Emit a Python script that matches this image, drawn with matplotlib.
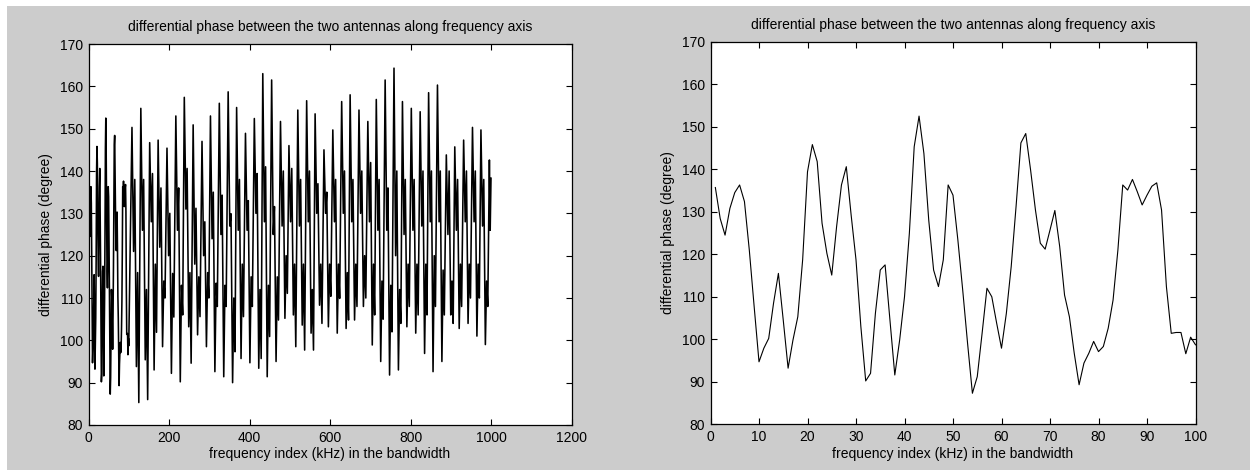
"""Two MATLAB-style panels: differential phase between two antennas vs frequency index."""

import matplotlib

matplotlib.use("Agg")
import matplotlib.pyplot as plt
from matplotlib.patches import Rectangle

# --- data ------------------------------------------------------------------
# first 100 samples (right panel, also the start of the left panel)
narrow_index = list(range(1, 101))
narrow_phase = [
    135.7, 128.4, 124.5, 130.8, 134.5, 136.3, 132.4, 121.0, 107.7, 94.7,
    97.9, 100.2, 108.5, 115.5, 104.5, 93.2, 99.8, 105.3, 118.7, 139.4,
    145.8, 141.8, 127.3, 120.2, 115.1, 126.5, 136.3, 140.6, 129.2, 118.7,
    103.0, 90.2, 92.0, 106.1, 116.3, 117.5, 104.5, 91.6, 99.8, 110.0,
    124.9, 145.3, 152.5, 143.7, 128.0, 116.3, 112.4, 118.7, 136.3, 133.9,
    123.4, 111.6, 99.1, 87.3, 91.2, 101.4, 112.0, 110.0, 103.8, 97.9,
    106.1, 117.1, 131.2, 146.2, 148.4, 139.8, 130.4, 122.6, 121.2, 125.7,
    130.3, 121.8, 110.4, 105.3, 96.7, 89.3, 94.4, 96.7, 99.5, 97.1,
    98.3, 102.6, 109.2, 121.0, 136.3, 135.1, 137.6, 134.7, 131.6, 133.9,
    136.0, 136.8, 130.4, 112.4, 101.4, 101.6, 101.6, 96.6, 100.5, 98.7,
]

# turning points of the left panel beyond index 100 (estimated by eye)
wide_index = [
    108, 112, 115, 119, 122, 125, 130, 134, 137, 141, 144, 147,
    152, 156, 159, 163, 166, 169, 173, 177, 180, 184, 187, 190,
    195, 199, 202, 206, 209, 212, 217, 221, 224, 228, 231, 234,
    238, 242, 245, 249, 252, 255, 260, 264, 267, 271, 274, 277,
    282, 286, 289, 293, 296, 299, 303, 307, 310, 314, 317, 320,
    325, 329, 332, 336, 339, 342, 347, 351, 354, 358, 361, 364,
    368, 372, 375, 379, 382, 385, 390, 394, 397, 401, 404, 407,
    412, 416, 419, 423, 426, 429, 433, 437, 440, 444, 447, 450,
    455, 459, 462, 466, 469, 472, 477, 481, 484, 488, 491, 494,
    498, 502, 505, 509, 512, 515, 520, 524, 527, 531, 534, 537,
    542, 546, 549, 553, 556, 559, 563, 567, 570, 574, 577, 580,
    585, 589, 592, 596, 599, 602, 607, 611, 614, 618, 621, 624,
    629, 633, 636, 640, 643, 646, 650, 654, 657, 661, 664, 667,
    672, 676, 679, 683, 686, 689, 694, 698, 701, 705, 708, 711,
    715, 719, 722, 726, 729, 732, 737, 741, 744, 748, 751, 754,
    759, 763, 766, 770, 773, 776, 780, 784, 787, 791, 794, 797,
    802, 806, 809, 813, 816, 819, 824, 828, 831, 835, 838, 841,
    845, 849, 852, 856, 859, 862, 867, 871, 874, 878, 881, 884,
    889, 893, 896, 900, 903, 906, 910, 914, 917, 921, 924, 927,
    932, 936, 939, 943, 946, 949, 954, 958, 961, 965, 968, 971,
    975, 979, 982, 986, 989, 992, 996, 998, 1000,
]
wide_phase = [
    150.3, 121.0, 138.0, 93.8, 116.0, 85.3, 154.8, 126.0, 138.0, 95.4, 112.0, 86.0,
    146.7, 128.0, 139.4, 93.0, 118.0, 101.9, 147.3, 122.0, 136.0, 98.5, 114.0, 110.0,
    145.4, 120.0, 130.0, 92.2, 115.8, 105.5, 153.0, 126.0, 136.0, 90.2, 113.0, 106.0,
    157.4, 131.0, 140.6, 103.2, 116.0, 94.6, 150.9, 118.0, 131.2, 101.3, 115.0, 105.6,
    147.0, 120.0, 128.0, 98.5, 116.0, 110.0, 153.0, 124.0, 135.0, 92.6, 113.5, 108.0,
    156.0, 125.0, 134.3, 91.4, 113.0, 108.0, 158.7, 127.0, 129.9, 90.0, 110.0, 97.3,
    155.0, 126.0, 138.0, 95.7, 118.0, 105.6, 148.9, 126.0, 133.0, 94.7, 115.0, 108.0,
    152.4, 130.0, 139.4, 93.4, 112.0, 95.7, 163.0, 128.0, 141.0, 91.4, 113.0, 100.9,
    161.5, 125.0, 131.6, 95.0, 115.0, 104.8, 151.7, 127.0, 140.0, 105.2, 120.0, 111.1,
    146.0, 128.0, 140.6, 106.0, 118.0, 98.5, 154.4, 127.0, 138.0, 103.6, 118.0, 97.7,
    156.6, 128.0, 140.0, 101.7, 112.0, 97.7, 153.5, 130.0, 137.0, 108.3, 118.0, 104.0,
    145.0, 130.0, 135.0, 103.2, 118.0, 110.4, 149.7, 128.0, 138.0, 101.7, 118.0, 109.9,
    156.4, 130.0, 140.0, 102.8, 116.0, 104.8, 158.0, 128.0, 138.0, 104.8, 118.0, 108.0,
    154.4, 130.0, 140.0, 108.0, 120.0, 110.0, 151.7, 128.0, 142.0, 98.9, 118.0, 106.0,
    156.9, 126.0, 138.0, 95.0, 114.0, 105.0, 161.5, 126.0, 136.0, 91.8, 113.0, 102.0,
    164.3, 120.0, 140.0, 93.0, 112.0, 104.0, 156.4, 125.0, 138.0, 103.2, 118.0, 108.0,
    154.8, 126.0, 138.0, 101.7, 118.0, 106.0, 154.0, 127.0, 140.0, 96.9, 118.0, 106.0,
    158.5, 128.0, 140.0, 92.6, 120.0, 108.0, 160.3, 128.0, 140.0, 95.0, 116.6, 106.0,
    143.8, 125.0, 140.0, 106.0, 114.0, 104.0, 145.7, 126.0, 138.0, 102.8, 118.0, 108.0,
    147.3, 128.0, 140.0, 104.0, 118.0, 110.0, 150.3, 128.0, 140.0, 101.0, 118.0, 110.0,
    149.7, 127.0, 138.0, 99.0, 114.0, 108.0, 142.6, 126.0, 138.3,
]

TITLE = "differential phase between the two antennas along frequency axis"
XLABEL = "frequency index (kHz) in the bandwidth"
YLABEL = "differential phase (degree)"

FIG_GREY = "#cccccc"
W, H = 1250, 470


def style_axes(ax, xlim, xticks):
    ax.set_xlim(*xlim)
    ax.set_ylim(80, 170)
    ax.set_xticks(xticks)
    ax.set_yticks(range(80, 171, 10))
    ax.tick_params(direction="in", length=4, width=0.8, top=True, right=True,
                   labelsize=10, pad=4)
    for s in ax.spines.values():
        s.set_linewidth(0.9)
        s.set_color("black")
    ax.set_title(TITLE, fontsize=10, pad=9)
    ax.set_xlabel(XLABEL, fontsize=10, labelpad=2)
    ax.set_ylabel(YLABEL, fontsize=10, labelpad=5)


def main():
    plt.rcParams["font.family"] = ["Liberation Sans", "DejaVu Sans"]
    fig = plt.figure(figsize=(W / 100, H / 100), dpi=100, facecolor=FIG_GREY)

    # thin white margins along the top and left edges of the screenshot
    fig.patches.append(Rectangle((0, 1 - 6 / H), 1, 6 / H, transform=fig.transFigure,
                                 facecolor="white", edgecolor="none", zorder=0))
    fig.patches.append(Rectangle((0, 0), 7 / W, 1, transform=fig.transFigure,
                                 facecolor="white", edgecolor="none", zorder=0))

    ax_l = fig.add_axes([88.5 / W, 45 / H, 483 / W, 381 / H])
    ax_r = fig.add_axes([710.5 / W, 45.7 / H, 485 / W, 382.6 / H])

    # the wide panel starts with the same 100 samples as the narrow one
    x_all = narrow_index + wide_index
    y_all = narrow_phase + wide_phase
    ax_l.plot(x_all, y_all, color="black", linewidth=1.15)
    style_axes(ax_l, (0, 1200), range(0, 1201, 200))

    ax_r.plot(narrow_index, narrow_phase, color="black", linewidth=0.8)
    style_axes(ax_r, (0, 100), range(0, 101, 10))

    fig.savefig("out.png", dpi=100, facecolor=FIG_GREY)
    plt.close(fig)


if __name__ == "__main__":
    main()
